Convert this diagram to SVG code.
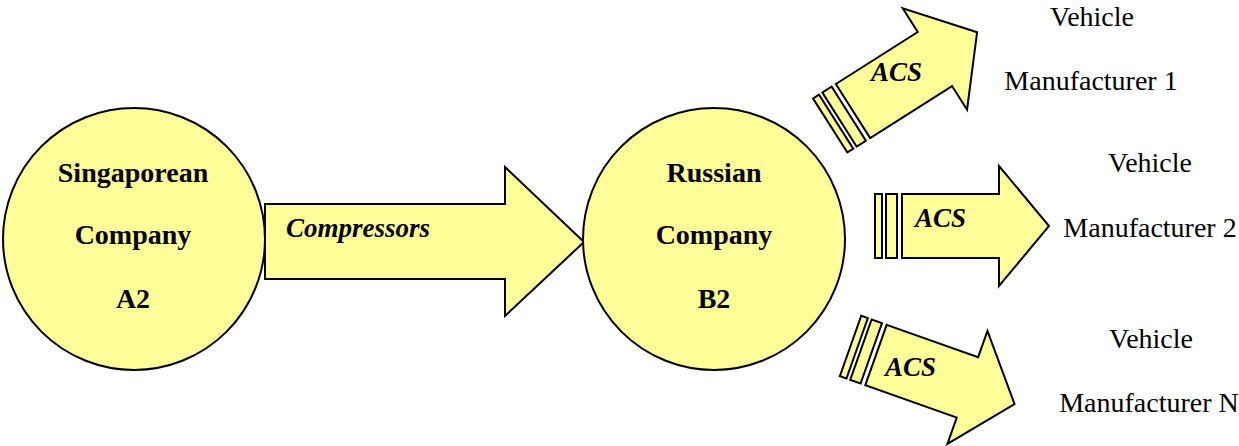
<svg xmlns="http://www.w3.org/2000/svg" width="1239" height="446" viewBox="0 0 1239 446">
<style>
.shape{fill:#ffff99;stroke:#000;stroke-width:2;stroke-linejoin:miter}
.b{font-family:"Liberation Serif",serif;font-weight:bold;font-size:28px;text-anchor:middle}
.bi{font-family:"Liberation Serif",serif;font-weight:bold;font-style:italic;font-size:27px}
.r{font-family:"Liberation Serif",serif;font-size:28px;text-anchor:middle}
</style>
<defs>
<g id="acsArrow">
<polygon class="shape" points="0,-32 97,-32 97,-60 147,0 97,60 97,32 0,32"/>
<rect class="shape" x="-16" y="-32" width="11" height="64"/>
<rect class="shape" x="-27" y="-32" width="7" height="64"/>
</g>
</defs>
<rect width="1239" height="446" fill="#fff"/>
<g id="connectors">
<polygon class="shape" points="265,204 505,204 505,167 584,242 505,316 505,279 265,279"/>
<use href="#acsArrow" transform="translate(853,111) rotate(-32.4)"/>
<use href="#acsArrow" transform="translate(902,226)"/>
<use href="#acsArrow" transform="translate(876,355) rotate(19.5)"/>
<text class="bi" x="286" y="237">Compressors</text>
<text class="bi" x="871" y="81">ACS</text>
<text class="bi" x="915" y="227">ACS</text>
<text class="bi" x="885" y="376">ACS</text>
</g>
<g id="nodeA2">
<circle class="shape" cx="134" cy="239" r="131"/>
<text class="b" x="133" y="182">Singaporean</text>
<text class="b" x="133" y="244">Company</text>
<text class="b" x="133" y="308">A2</text>
</g>
<g id="nodeB2">
<circle class="shape" cx="714" cy="239" r="131"/>
<text class="b" x="714" y="182">Russian</text>
<text class="b" x="714" y="244">Company</text>
<text class="b" x="714" y="308">B2</text>
</g>
<g id="vm1">
<text class="r" x="1092" y="26">Vehicle</text>
<text class="r" x="1091" y="90">Manufacturer 1</text>
</g>
<g id="vm2">
<text class="r" x="1150" y="172">Vehicle</text>
<text class="r" x="1150" y="237">Manufacturer 2</text>
</g>
<g id="vmN">
<text class="r" x="1151" y="348">Vehicle</text>
<text class="r" x="1149" y="412">Manufacturer N</text>
</g>
</svg>
